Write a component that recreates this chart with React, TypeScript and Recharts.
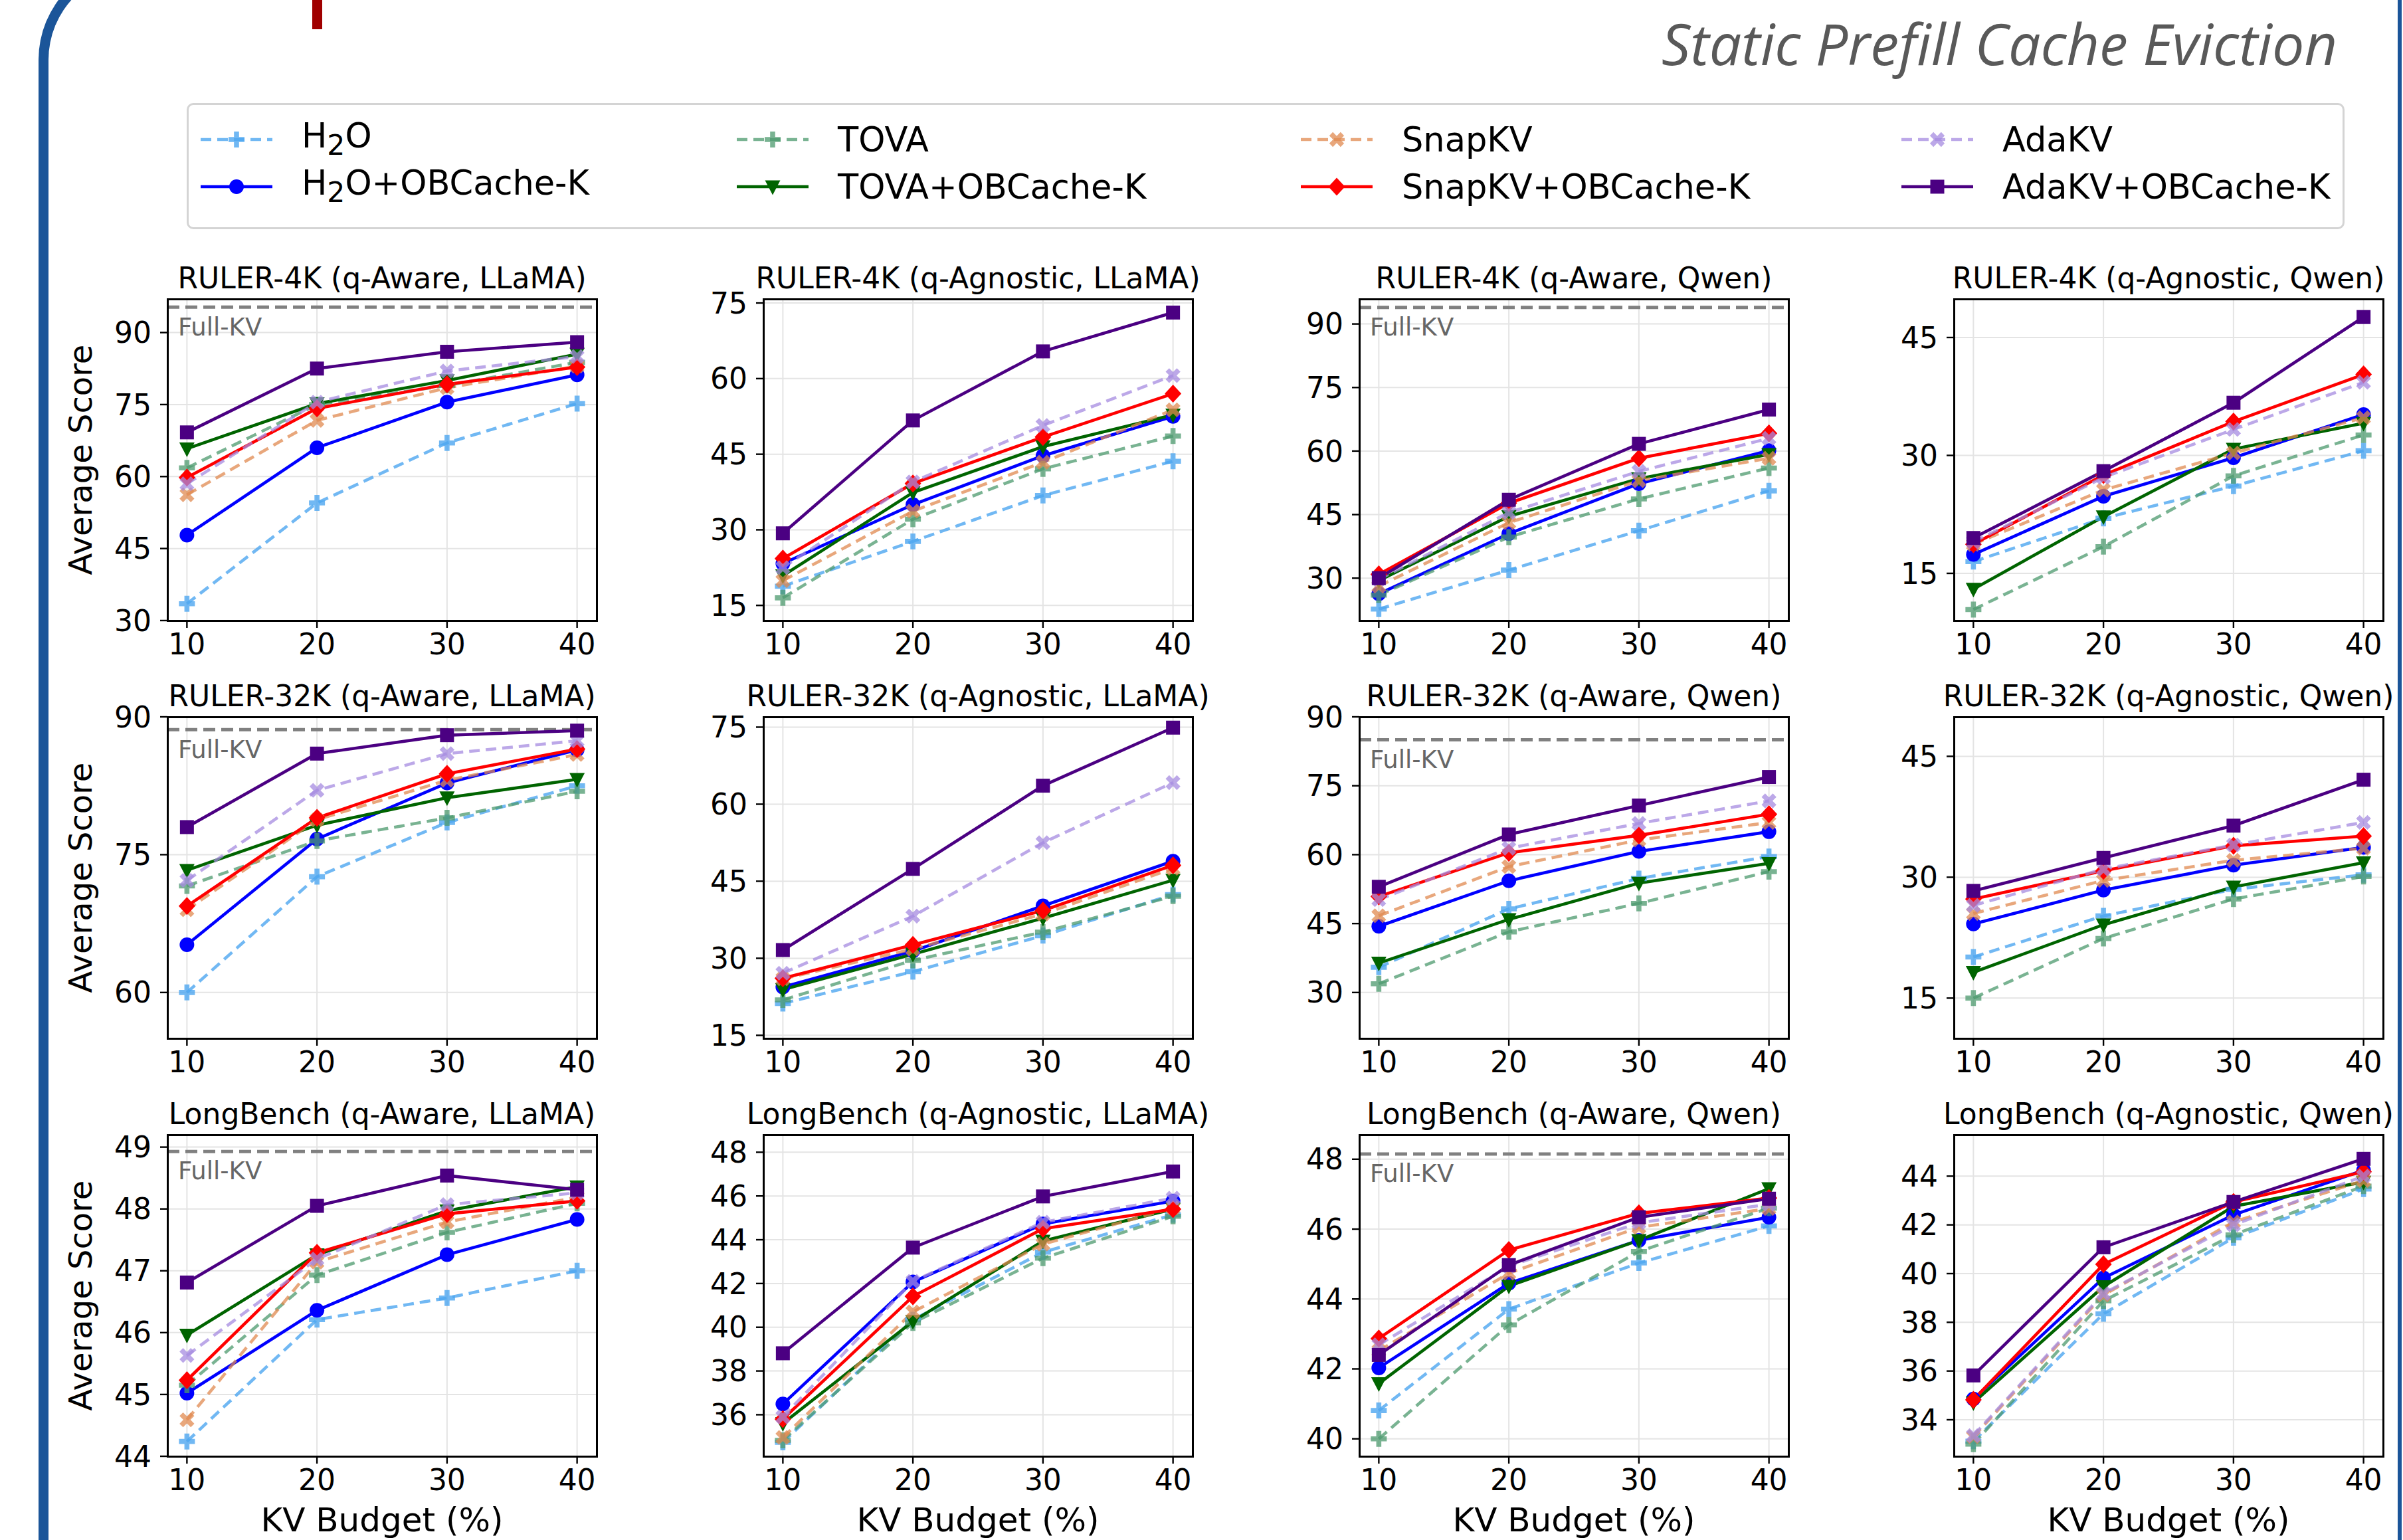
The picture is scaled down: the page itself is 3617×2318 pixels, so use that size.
import React from 'react';
import { CartesianGrid, Line, LineChart, ReferenceLine, XAxis, YAxis } from 'recharts';

const budgets = [10, 20, 30, 40];

const panelTitles = [
  'RULER-4K (q-Aware, LLaMA)',
  'RULER-4K (q-Agnostic, LLaMA)',
  'RULER-4K (q-Aware, Qwen)',
  'RULER-4K (q-Agnostic, Qwen)',
  'RULER-32K (q-Aware, LLaMA)',
  'RULER-32K (q-Agnostic, LLaMA)',
  'RULER-32K (q-Aware, Qwen)',
  'RULER-32K (q-Agnostic, Qwen)',
  'LongBench (q-Aware, LLaMA)',
  'LongBench (q-Agnostic, LLaMA)',
  'LongBench (q-Aware, Qwen)',
  'LongBench (q-Agnostic, Qwen)',
];

const yTicks = [
  [30, 45, 60, 75, 90],
  [15, 30, 45, 60, 75],
  [30, 45, 60, 75, 90],
  [15, 30, 45],
  [60, 75, 90],
  [15, 30, 45, 60, 75],
  [30, 45, 60, 75, 90],
  [15, 30, 45],
  [44, 45, 46, 47, 48, 49],
  [36, 38, 40, 42, 44, 46, 48],
  [40, 42, 44, 46, 48],
  [34, 36, 38, 40, 42, 44],
];

const yDomains = [
  [30, 97], [12, 75.8], [20, 95.9], [9, 49.9],
  [55, 90], [14.4, 77], [20, 90], [10, 49.9],
  [44, 49.2], [34.1, 48.8], [39.5, 48.7], [32.5, 45.7],
];

const fullKV = [95.3, null, 93.9, null, 88.6, null, 85, null, 48.93, null, 48.15, null];

const h2o = [
  [33.5, 54.5, 67, 75.2], [18.8, 27.7, 36.8, 43.6], [22.7, 31.9, 41.2, 50.6], [16.5, 22, 26.1, 30.6],
  [60, 72.6, 78.5, 82.5], [21.2, 27.4, 34.4, 42.4], [35.5, 48.2, 54.8, 59.6], [20.1, 25.2, 28.5, 30.3],
  [44.24, 46.21, 46.56, 47.0], [34.74, 40.34, 43.43, 45.14], [40.81, 43.71, 45.03, 46.09], [33.12, 38.35, 41.47, 43.47],
];
const h2oOb = [
  [47.8, 66, 75.5, 81.2], [23.3, 35, 44.7, 52.5], [26.3, 40.5, 52.3, 60.1], [17.4, 24.8, 29.7, 35.2],
  [65.2, 76.7, 82.8, 86.4], [24.4, 31.4, 40.2, 48.9], [44.4, 54.3, 60.7, 65], [24.2, 28.4, 31.5, 33.7],
  [45.02, 46.36, 47.26, 47.83], [36.49, 42.07, 44.72, 45.77], [42.03, 44.45, 45.68, 46.34], [34.85, 39.82, 42.41, 44.24],
];
const tova = [
  [61.8, 75, 79, 83.8], [16.5, 32.1, 42.1, 48.6], [26, 39.7, 48.7, 56], [10.4, 18.4, 27.4, 32.6],
  [71.6, 76.5, 79, 81.9], [21.9, 29.6, 35.1, 42.1], [31.9, 43.2, 49.4, 56.3], [15, 22.4, 27.3, 30.1],
  [45.15, 46.93, 47.62, 48.09], [34.83, 40.2, 43.16, 45.07], [40, 43.26, 45.36, 46.6], [33, 38.88, 41.59, 43.59],
];
const tovaOb = [
  [65.8, 75.2, 80, 85.5], [20.9, 37.4, 46.5, 52.8], [29.4, 44.6, 53.5, 59.2], [13, 22.2, 30.8, 34.1],
  [73.3, 78.2, 81.2, 83.2], [23.9, 30.8, 37.8, 45.2], [36.4, 45.9, 53.8, 58.1], [18.2, 24.1, 28.8, 31.8],
  [45.96, 47.26, 47.97, 48.36], [35.6, 40.27, 43.94, 45.4], [41.58, 44.37, 45.68, 47.16], [34.7, 39.47, 42.76, 43.76],
];
const snapkv = [
  [56.2, 71.7, 78.5, 83], [19.9, 33.7, 43.4, 53.8], [28.1, 43.1, 53, 58.3], [18.7, 25.6, 30.3, 34.8],
  [69, 78.8, 83.1, 85.9], [26, 31.8, 38.6, 47.5], [46.7, 57.4, 63.2, 67], [25.5, 29.6, 32.1, 33.6],
  [44.59, 47.14, 47.79, 48.19], [34.96, 40.7, 43.8, 45.45], [42.52, 44.74, 46.05, 46.59], [33.3, 39.12, 42.12, 43.82],
];
const snapkvOb = [
  [59.8, 74.2, 79.2, 82.8], [24.3, 39.2, 48.4, 57], [30.9, 47.7, 58.3, 64.2], [18.7, 27.5, 34.3, 40.3],
  [69.4, 79, 83.8, 86.5], [26.1, 32.6, 39.3, 48.1], [50.9, 60.4, 64.2, 68.8], [27.3, 30.8, 33.9, 35.1],
  [45.23, 47.29, 47.92, 48.13], [35.8, 41.41, 44.5, 45.4], [42.87, 45.4, 46.45, 46.89], [34.82, 40.38, 42.94, 44.18],
];
const adakv = [
  [58.5, 75.5, 82, 85], [22.5, 39.5, 50.7, 60.6], [29.7, 45.5, 55.2, 63], [19, 27.2, 33.3, 39.3],
  [72.2, 82, 86, 87.4], [27.1, 38.2, 52.5, 64.2], [50.2, 61.4, 66.8, 71.7], [26.5, 31, 34, 36.8],
  [45.63, 47.19, 48.07, 48.26], [35.9, 42.1, 44.8, 45.9], [42.69, 44.94, 46.18, 46.71], [33.35, 39.18, 42, 44],
];
const adakvOb = [
  [69.2, 82.5, 86, 88], [29.3, 51.7, 65.4, 73.1], [30, 48.5, 61.7, 69.8], [19.5, 28, 36.7, 47.6],
  [78, 86, 88, 88.5], [31.6, 47.4, 63.6, 74.9], [53, 64.4, 70.7, 76.9], [28.3, 32.4, 36.4, 42.1],
  [46.81, 48.05, 48.54, 48.31], [38.81, 43.64, 45.98, 47.12], [42.4, 44.97, 46.34, 46.87], [35.82, 41.08, 42.94, 44.71],
];

type Shape = 'plus' | 'circle' | 'tri' | 'x' | 'diamond' | 'square';

const SERIES = [
  { key: 'h2o', label: <>H<sub>2</sub>O</>, values: h2o, color: '#4ea6f0', opacity: 0.8, dashed: true, shape: 'plus' as Shape },
  { key: 'h2oOb', label: <>H<sub>2</sub>O+OBCache-K</>, values: h2oOb, color: '#0000ff', opacity: 1, dashed: false, shape: 'circle' as Shape },
  { key: 'tova', label: 'TOVA', values: tova, color: '#4c9a6e', opacity: 0.75, dashed: true, shape: 'plus' as Shape },
  { key: 'tovaOb', label: 'TOVA+OBCache-K', values: tovaOb, color: '#006400', opacity: 1, dashed: false, shape: 'tri' as Shape },
  { key: 'snapkv', label: 'SnapKV', values: snapkv, color: '#e08a50', opacity: 0.75, dashed: true, shape: 'x' as Shape },
  { key: 'snapkvOb', label: 'SnapKV+OBCache-K', values: snapkvOb, color: '#ff0000', opacity: 1, dashed: false, shape: 'diamond' as Shape },
  { key: 'adakv', label: 'AdaKV', values: adakv, color: '#a58be0', opacity: 0.75, dashed: true, shape: 'x' as Shape },
  { key: 'adakvOb', label: 'AdaKV+OBCache-K', values: adakvOb, color: '#4b0082', opacity: 1, dashed: false, shape: 'square' as Shape },
];

const PANEL_LEFT = [252, 1149, 2046, 2941];
const PANEL_TOP = [450, 1079, 1708];
const PW = 646;
const PH = 484;
const YW = 130;
const XH = 80;
const PAD = 34;
const TICK_FONT = 44;

function Marker({ shape, cx, cy, color, opacity }: { shape: Shape; cx: number; cy: number; color: string; opacity: number }) {
  const w = 3.8;
  const L = 12;
  const plusPath = `M${cx - w},${cy - L}H${cx + w}V${cy - w}H${cx + L}V${cy + w}H${cx + w}V${cy + L}H${cx - w}V${cy + w}H${cx - L}V${cy - w}H${cx - w}Z`;
  switch (shape) {
    case 'circle':
      return <circle cx={cx} cy={cy} r={11} fill={color} fillOpacity={opacity} />;
    case 'square':
      return <rect x={cx - 10.5} y={cy - 10.5} width={21} height={21} fill={color} fillOpacity={opacity} />;
    case 'diamond':
      return <polygon points={`${cx},${cy - 13.5} ${cx + 12.5},${cy} ${cx},${cy + 13.5} ${cx - 12.5},${cy}`} fill={color} fillOpacity={opacity} />;
    case 'tri':
      return <polygon points={`${cx - 11.5},${cy - 9.5} ${cx + 11.5},${cy - 9.5} ${cx},${cy + 12.5}`} fill={color} fillOpacity={opacity} />;
    case 'x':
      return <path d={plusPath} fill={color} fillOpacity={opacity} transform={`rotate(45 ${cx} ${cy})`} />;
    default:
      return <path d={plusPath} fill={color} fillOpacity={opacity} />;
  }
}

function Panel({ p }: { p: number }) {
  const col = p % 4;
  const row = Math.floor(p / 4);
  const left = PANEL_LEFT[col];
  const top = PANEL_TOP[row];
  const data = budgets.map((b, i) => {
    const r: Record<string, number> = { budget: b };
    SERIES.forEach((s) => {
      r[s.key] = s.values[p][i];
    });
    return r;
  });
  const fk = fullKV[p];
  return (
    <>
      <div style={{ position: 'absolute', left: left - YW, top: top - PAD }}>
        <LineChart width={YW + PW + PAD} height={PAD + PH + XH} data={data} margin={{ top: PAD, right: PAD, bottom: 0, left: 0 }}>
          <CartesianGrid stroke="#e4e4e4" strokeWidth={2} />
          <XAxis
            dataKey="budget"
            type="number"
            domain={[8.5, 41.5]}
            ticks={budgets}
            interval={0}
            allowDataOverflow
            height={XH}
            axisLine={false}
            tickSize={11}
            tickMargin={9}
            tickLine={{ stroke: '#000', strokeWidth: 2.4 }}
            tick={{ fontSize: TICK_FONT, fill: '#000' }}
          />
          <YAxis
            type="number"
            domain={yDomains[p]}
            ticks={yTicks[p]}
            interval={0}
            allowDataOverflow
            width={YW}
            axisLine={false}
            tickSize={11}
            tickMargin={13}
            tickLine={{ stroke: '#000', strokeWidth: 2.4 }}
            tick={{ fontSize: TICK_FONT, fill: '#000' }}
          />
          {fk != null && (
            <ReferenceLine
              y={fk}
              stroke="#808080"
              strokeWidth={5}
              strokeDasharray="18 9"
              label={{ value: 'Full-KV', position: 'insideTopLeft', offset: 16, fill: '#666', fontSize: 37 }}
            />
          )}
          {SERIES.map((s) => (
            <Line
              key={s.key}
              dataKey={s.key}
              type="linear"
              stroke={s.color}
              strokeOpacity={s.opacity}
              strokeWidth={4.6}
              strokeDasharray={s.dashed ? '16 9' : undefined}
              isAnimationActive={false}
              activeDot={false}
              dot={(d: any) => (
                <Marker key={`${s.key}-${d.index}`} shape={s.shape} cx={d.cx} cy={d.cy} color={s.color} opacity={s.opacity} />
              )}
            />
          ))}
        </LineChart>
      </div>
      <div
        style={{
          position: 'absolute',
          left: left - 1.5,
          top: top - 1.5,
          width: PW + 3,
          height: PH + 3,
          border: '3px solid #000',
          boxSizing: 'border-box',
          pointerEvents: 'none',
        }}
      />
      <div
        style={{
          position: 'absolute',
          left: left + PW / 2,
          top: top - 53,
          transform: 'translateX(-50%)',
          fontSize: 44,
          lineHeight: 1,
          whiteSpace: 'nowrap',
          color: '#000',
        }}
      >
        {panelTitles[p]}
      </div>
      {col === 0 && (
        <div
          style={{
            position: 'absolute',
            left: 121,
            top: top + PH / 2,
            transform: 'translate(-50%, -50%) rotate(-90deg)',
            fontSize: 48,
            lineHeight: 1,
            whiteSpace: 'nowrap',
          }}
        >
          Average Score
        </div>
      )}
      {row === 2 && (
        <div
          style={{
            position: 'absolute',
            left: left + PW / 2,
            top: 2288,
            transform: 'translate(-50%, -50%)',
            fontSize: 50,
            lineHeight: 1,
            whiteSpace: 'nowrap',
          }}
        >
          KV Budget (%)
        </div>
      )}
    </>
  );
}

const LEGEND_COLS = [300, 1107, 1956, 2860];
const LEGEND_ROWS = [210, 281];

function Legend() {
  return (
    <>
      <div
        style={{
          position: 'absolute',
          left: 281,
          top: 155,
          width: 3248,
          height: 190,
          border: '3px solid #d4d4d4',
          borderRadius: 10,
          boxSizing: 'border-box',
          background: 'rgba(255,255,255,0.85)',
        }}
      />
      {SERIES.map((s, i) => {
        const c = Math.floor(i / 2);
        const r = i % 2;
        return (
          <div
            key={s.key}
            style={{
              position: 'absolute',
              left: LEGEND_COLS[c],
              top: LEGEND_ROWS[r] - 25,
              height: 50,
              display: 'flex',
              alignItems: 'center',
              whiteSpace: 'nowrap',
            }}
          >
            <svg width={112} height={50} style={{ marginRight: 42 }}>
              <line
                x1={2}
                y1={25}
                x2={110}
                y2={25}
                stroke={s.color}
                strokeOpacity={s.opacity}
                strokeWidth={4.6}
                strokeDasharray={s.dashed ? '16 9' : undefined}
              />
              <Marker shape={s.shape} cx={56} cy={25} color={s.color} opacity={s.opacity} />
            </svg>
            <span style={{ fontSize: 51, lineHeight: 1 }}>{s.label}</span>
          </div>
        );
      })}
    </>
  );
}

export default function App() {
  return (
    <div
      style={{
        position: 'absolute',
        left: 0,
        top: 0,
        width: 3617,
        height: 2318,
        overflow: 'hidden',
        background: '#fff',
        fontFamily: '"DejaVu Sans", sans-serif',
      }}
    >
      <div
        style={{
          position: 'absolute',
          left: 58,
          top: -60,
          width: 3557,
          height: 2500,
          borderLeft: '15px solid #1b5599',
          borderTop: '15px solid #1b5599',
          borderRight: '6px solid #1b5599',
          borderTopLeftRadius: 150,
          boxSizing: 'border-box',
        }}
      />
      <div style={{ position: 'absolute', left: 470, top: 0, width: 15, height: 44, background: '#a00000' }} />
      <div
        style={{
          position: 'absolute',
          right: 99,
          top: 22,
          fontFamily: '"Open Sans", sans-serif',
          fontStyle: 'italic',
          fontSize: 86,
          lineHeight: 1,
          color: '#595959',
          whiteSpace: 'nowrap',
        }}
      >
        Static Prefill Cache Eviction
      </div>
      <Legend />
      {panelTitles.map((_, p) => (
        <Panel key={p} p={p} />
      ))}
    </div>
  );
}
